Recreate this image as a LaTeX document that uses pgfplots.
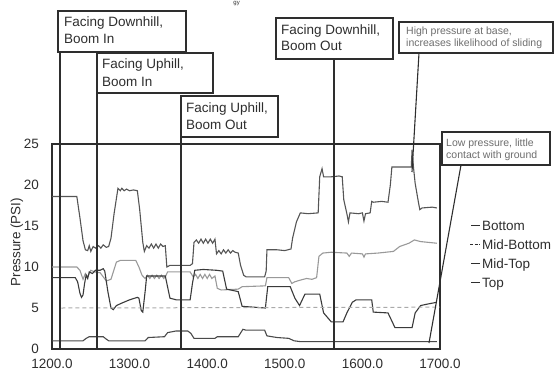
\documentclass[border=0pt]{standalone}
\usepackage{fontspec}
\setmainfont{Liberation Sans}
\usepackage{pgfplots}
\pgfplotsset{compat=1.18}
\definecolor{ink}{HTML}{2E2E2E}
\definecolor{serA}{HTML}{555555}
\definecolor{serB}{HTML}{999999}
\definecolor{serC}{HTML}{3A3A3A}
\definecolor{serD}{HTML}{AAAAAA}
\definecolor{serE}{HTML}{4A4A4A}
\definecolor{faint}{HTML}{6E6E6E}
\begin{document}
\begin{tikzpicture}
\useasboundingbox (0pt,0pt) rectangle (554pt,373pt);
\begin{axis}[
  at={(52pt,24pt)}, anchor=south west, scale only axis,
  width=388pt, height=205pt,
  xmin=1200, xmax=1700, ymin=0, ymax=25,
  xtick={1200,1300,1400,1500,1600,1700},
  xticklabels={1200.0,1300.0,1400.0,1500.0,1600.0,1700.0},
  ytick={0,5,10,15,20,25},
  yticklabels={0,5,10,15,20,25},
  major tick length=0pt,
  axis line style={ink, line width=1.6pt},
  tick label style={font=\fontsize{13.5}{15}\selectfont, text=ink},
  xticklabel style={inner sep=0pt, anchor=north, yshift=-10pt},
  yticklabel style={inner sep=0pt, anchor=east, xshift=-13pt},
]
% Bottom (highest pressure)
\addplot[serA, line width=1.1pt] coordinates {
(1200,18.6) (1232,18.6) (1236,16) (1240,13.2) (1243,12.1) (1246,12.0) (1248,12.6) (1250,11.9) (1253,12.5) (1256,12.3) (1260,12.6) (1263,12.3) (1266,12.7) (1270,12.4) (1273,12.5) (1276,13.5) (1280,16.5) (1285,19.6) (1288,19.3) (1290,19.6) (1293,19.3) (1296,19.5) (1300,19.3) (1305,19.4) (1310,19.3) (1313,17) (1317,13) (1319,11.9) (1322,12.6) (1325,12.3) (1328,12.8) (1331,12.3) (1334,12.8) (1337,12.3) (1340,12.8) (1343,12.5) (1346,12.6) (1348,10.0) (1352,10.2) (1378,10.2) (1381,10.4) (1383,13.0) (1386,13.3) (1389,12.9) (1392,13.4) (1395,12.9) (1398,13.4) (1401,12.9) (1404,13.4) (1407,12.9) (1410,13.4) (1412,11.6) (1415,12.0) (1418,11.6) (1421,12.1) (1424,11.7) (1427,12.1) (1430,11.7) (1433,12.0) (1436,11.8) (1440,11.7) (1443,10.2) (1447,9.0) (1450,8.8) (1474,8.8) (1476,9.5) (1477,12.1) (1490,12.1) (1500,12.0) (1508,12.2) (1510,13.5) (1515,15.5) (1520,16.6) (1530,16.5) (1543,16.6) (1545,21.0) (1548,22.0) (1550,21.0) (1560,21.0) (1570,21.1) (1574,21.0) (1576,18.2) (1580,16.5) (1582,15.5) (1584,16.6) (1595,16.5) (1600,16.6) (1602,15.6) (1604,16.5) (1610,16.6) (1612,18.0) (1614,17.9) (1625,18.0) (1633,17.9) (1636,20.0) (1638,22.2) (1650,22.2) (1663,22.2) (1664,24.3) (1666,22) (1668,20.2) (1672,18) (1674,17.0) (1677,17.2) (1690,17.3) (1696,17.2)
};
% Mid-Bottom
\addplot[serB, line width=1.1pt] coordinates {
(1200,10.0) (1232,10.0) (1236,9.6) (1240,8.5) (1243,9.2) (1246,8.8) (1250,9.6) (1255,9.4) (1262,9.3) (1270,8.3) (1276,8.5) (1283,10.6) (1288,10.8) (1308,10.8) (1312,10.0) (1316,9.0) (1320,8.6) (1323,9.0) (1326,8.6) (1329,9.0) (1332,8.6) (1335,9.0) (1338,8.6) (1341,9.0) (1344,8.6) (1346,8.8) (1349,9.4) (1378,9.4) (1382,8.8) (1385,9.1) (1388,8.6) (1391,9.1) (1394,8.6) (1397,9.1) (1400,8.6) (1403,9.1) (1406,8.6) (1410,8.9) (1413,7.4) (1418,7.2) (1440,7.3) (1445,7.6) (1475,7.7) (1477,8.7) (1505,8.7) (1509,8.0) (1513,8.2) (1520,8.4) (1528,8.6) (1535,8.5) (1541,8.7) (1544,11.3) (1549,11.7) (1560,11.8) (1580,11.7) (1583,11.3) (1586,11.7) (1600,11.6) (1602,11.2) (1604,11.6) (1620,11.7) (1640,11.9) (1648,12.5) (1660,12.9) (1667,13.3) (1675,13.1) (1696,12.9)
};
% Mid-Top
\addplot[serC, line width=1.1pt] coordinates {
(1200,8.7) (1230,8.7) (1233,8.2) (1236,6.8) (1238,6.3) (1240,6.6) (1242,8.0) (1244,9.0) (1246,8.6) (1248,9.4) (1252,9.2) (1256,9.6) (1262,9.6) (1266,9.8) (1268,9.5) (1272,7.0) (1276,5.0) (1279,4.8) (1283,5.3) (1290,5.6) (1300,6.0) (1310,6.3) (1312,6.2) (1315,4.7) (1317,4.5) (1320,7.0) (1322,8.9) (1346,8.9) (1352,6.2) (1360,6.0) (1378,6.0) (1381,8.0) (1384,9.6) (1395,9.7) (1412,9.6) (1420,9.5) (1425,7.3) (1440,7.0) (1445,5.2) (1475,5.0) (1478,7.6) (1507,7.6) (1513,6.2) (1519,5.3) (1526,6.7) (1545,6.7) (1550,4.4) (1560,3.3) (1575,3.3) (1580,4.4) (1587,5.7) (1592,6.0) (1612,6.0) (1614,4.5) (1633,4.4) (1642,2.6) (1664,2.6) (1668,4.4) (1675,5.3) (1685,5.5) (1696,5.7)
};
% dashed reference near 5
\addplot[serD, line width=1pt, dash pattern=on 4pt off 3pt] coordinates {
(1212,5.0) (1450,5.05) (1700,5.1)
};
% Top (lowest pressure)
\addplot[serE, line width=1.1pt] coordinates {
(1200,1.0) (1240,1.0) (1244,1.3) (1248,1.5) (1266,1.5) (1270,1.2) (1273,1.0) (1320,1.0) (1324,1.4) (1345,1.5) (1349,2.0) (1360,2.2) (1375,2.2) (1379,1.9) (1383,1.3) (1410,1.3) (1413,1.5) (1440,1.5) (1446,2.4) (1450,2.3) (1474,2.3) (1477,1.6) (1490,1.4) (1505,1.3) (1512,1.0) (1520,0.9) (1600,0.9) (1685,0.9) (1696,0.9)
};
\end{axis}
% legend
\tikzset{ltext/.style={anchor=base west, inner sep=0pt, font=\fontsize{13.5}{15}\selectfont, text=ink}}
\draw[ink, line width=1pt] (471pt,147.5pt) -- (480pt,147.5pt);
\node[ltext] at (482pt,143pt) {Bottom};
\draw[ink, line width=1pt, dash pattern=on 3pt off 1.5pt] (470pt,128.5pt) -- (480pt,128.5pt);
\node[ltext] at (482pt,124pt) {Mid-Bottom};
\draw[ink, line width=1pt] (471pt,109.5pt) -- (480pt,109.5pt);
\node[ltext] at (482pt,105pt) {Mid-Top};
\draw[ink, line width=1pt] (471pt,90.5pt) -- (480pt,90.5pt);
\node[ltext] at (482pt,86pt) {Top};
% fragment of the title cut by the top edge
\node[anchor=north east, font=\fontsize{6}{7}\selectfont, text=ink, inner sep=0pt] at (240pt,372pt) {gy};
% y label
\node[rotate=90, font=\fontsize{13.5}{15}\selectfont, text=ink] at (17pt,131pt) {Pressure (PSI)};
% annotation leaders
\draw[ink, line width=1.3pt] (60pt,321pt) -- (60pt,24pt);
\draw[ink, line width=1.3pt] (97pt,280pt) -- (97pt,24pt);
\draw[ink, line width=1.3pt] (181pt,236pt) -- (181pt,24pt);
\draw[ink, line width=1.3pt] (334pt,314pt) -- (334pt,24pt);
\draw[ink, line width=1.1pt] (419pt,320pt) -- (412pt,201pt);
\draw[ink, line width=1.1pt] (461pt,208pt) -- (429pt,30pt);
% annotation boxes
\tikzset{abox/.style={draw=ink, line width=1.3pt, fill=white}, atext/.style={anchor=base west, inner sep=0pt, font=\fontsize{13.5}{15}\selectfont, text=ink}, stext/.style={anchor=base west, inner sep=0pt, font=\fontsize{10.5}{12}\selectfont, text=faint}}
\draw[abox] (58pt,321pt) rectangle (186pt,362pt);
\node[atext] at (64pt,346pt) {Facing Downhill,};
\node[atext] at (64pt,329pt) {Boom In};
\draw[abox] (97pt,280pt) rectangle (213pt,320pt);
\node[atext] at (102pt,304pt) {Facing Uphill,};
\node[atext] at (102pt,287pt) {Boom In};
\draw[abox] (181pt,236pt) rectangle (278pt,277pt);
\node[atext] at (186pt,261pt) {Facing Uphill,};
\node[atext] at (186pt,244pt) {Boom Out};
\draw[abox] (276pt,314pt) rectangle (393pt,355pt);
\node[atext] at (281pt,338pt) {Facing Downhill,};
\node[atext] at (281pt,322pt) {Boom Out};
\draw[abox] (399pt,320pt) rectangle (553pt,351pt);
\node[stext] at (406pt,338pt) {High pressure at base,};
\node[stext] at (406pt,326pt) {increases likelihood of sliding};
\draw[abox] (442pt,208pt) rectangle (550pt,241pt);
\node[stext] at (446pt,227pt) {Low pressure, little};
\node[stext] at (446pt,215pt) {contact with ground};
\end{tikzpicture}
\end{document}
